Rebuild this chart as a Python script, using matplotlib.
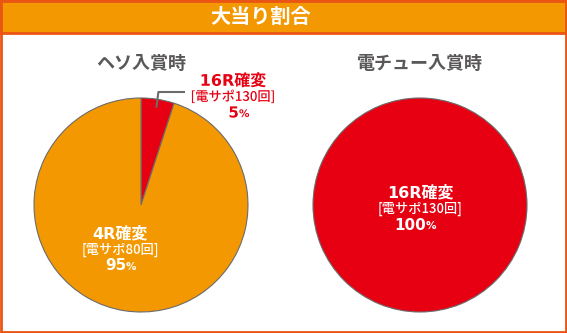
import numpy as np
import matplotlib.pyplot as plt
import matplotlib.patheffects as pe
from matplotlib.patches import Rectangle

plt.rcParams['font.family'] = ['Noto Sans CJK JP', 'DejaVu Sans']
LATIN_FIRST = ['DejaVu Sans', 'Noto Sans CJK JP']

# data
header = '大当り割合'
titles = ['ヘソ入賞時', '電チュー入賞時']
heso_vals = [5, 95]
heso_names = ['16R確変', '4R確変']
heso_sub = ['[電サポ130回]', '[電サポ80回]']
denchu_vals = [100]
denchu_names = ['16R確変']
denchu_sub = ['[電サポ130回]']

RED = '#e60012'
ORANGE = '#f39800'
GRAY = '#595757'
EDGE = '#ea5514'

W, H = 567, 333
fig = plt.figure(figsize=(W / 100, H / 100), dpi=100)
ax = fig.add_axes([0, 0, 1, 1])


def Y(y):
    return H - y


def pct_text(x, y, val, color, eff):
    ax.text(x + 6, Y(y), f'{val}', ha='right', va='center', fontsize=11,
            fontweight='bold', color=color, path_effects=eff, family=LATIN_FIRST)
    ax.text(x + 6, Y(y) - 1, '%', ha='left', va='center', fontsize=7.5,
            fontweight='bold', color=color, path_effects=eff, family=LATIN_FIRST)


def label(x, y, name, sub, val, color, outline=None):
    eff = [pe.withStroke(linewidth=3, foreground=outline)] if outline else None
    ax.text(x, Y(y), name, ha='center', va='center', fontsize=11.5,
            fontweight='bold', color=color, path_effects=eff, family=LATIN_FIRST)
    ax.text(x, Y(y + 16), sub, ha='center', va='center', fontsize=9.5,
            fontweight='medium', color=color, path_effects=eff)
    pct_text(x, y + 32, val, color, eff)


r = 107
cx1, cx2, cy = 141, 420, 205

ax.pie(heso_vals, colors=[RED, ORANGE], startangle=90, counterclock=False,
       center=(cx1, Y(cy)), radius=r,
       wedgeprops=dict(edgecolor='#6b6b6b', linewidth=0.8))
ax.pie(denchu_vals, colors=[RED], startangle=90, counterclock=False,
       center=(cx2, Y(cy)), radius=r,
       wedgeprops=dict(edgecolor='#6b6b6b', linewidth=0.8))

# leader line for the small slice
mid = np.deg2rad(90 - heso_vals[0] / sum(heso_vals) * 360 / 2)
sx, sy = cx1 + 0.92 * r * np.cos(mid), Y(cy) + 0.92 * r * np.sin(mid)
ax.plot([sx, sx + 2, 185], [sy, Y(92), Y(92)], color='#6b6b6b', lw=1.5,
        solid_capstyle='butt', zorder=5)

label(233, 81, heso_names[0], heso_sub[0], heso_vals[0], RED, outline='white')
label(120, 234, heso_names[1], heso_sub[1], heso_vals[1], 'white')
label(420, 193, denchu_names[0], denchu_sub[0], denchu_vals[0], 'white')

for x, t in zip([cx1, cx2], titles):
    ax.text(x, Y(63), t, ha='center', va='center', fontsize=13,
            fontweight='bold', color=GRAY)

# header band and frame
ax.add_patch(Rectangle((0, Y(33)), W, 33, facecolor=ORANGE, edgecolor=EDGE,
                       linewidth=2, zorder=6))
ax.text(261, Y(16), header, ha='center', va='center', fontsize=14.5,
        fontweight='bold', color='white', zorder=7)
ax.add_patch(Rectangle((1, 1), W - 2, H - 2, fill=False, edgecolor=EDGE,
                       linewidth=2, zorder=8))

ax.set_xlim(0, W)
ax.set_ylim(0, H)
ax.set_aspect('auto')
ax.axis('off')

fig.savefig('out.png', dpi=100)
